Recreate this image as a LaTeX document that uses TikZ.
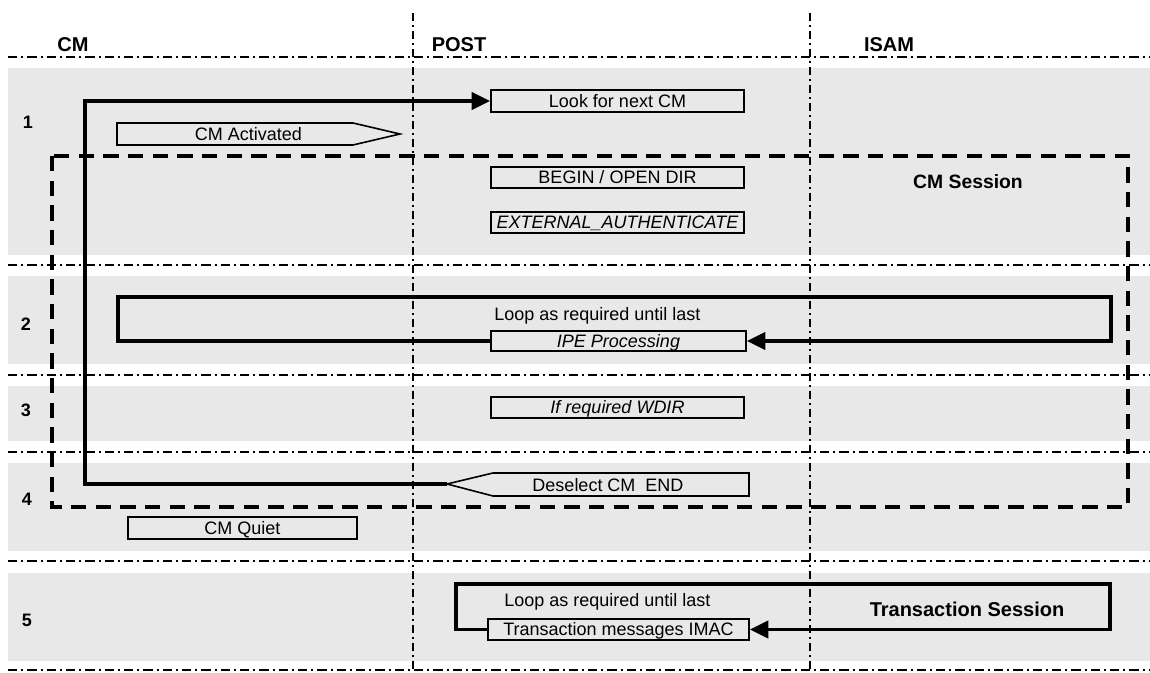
\documentclass[tikz,border=0pt]{standalone}
\usepackage{fontspec}
\setmainfont{Liberation Sans}
\usetikzlibrary{arrows.meta}
\definecolor{band}{RGB}{232,232,232}
\tikzset{
  bandfill/.style={fill=band, draw=none},
  hsep/.style={line width=1.6pt, dash pattern=on 7pt off 3pt on 1.5pt off 3pt},
  vsep/.style={line width=1.3pt, dash pattern=on 6pt off 3pt on 1.5pt off 3pt},
  msgbox/.style={draw, line width=1.2pt, inner sep=0pt, text height=9.7pt, text depth=0pt, font=\fontsize{13.5}{15}\selectfont},
  pent/.style={draw, line width=1.2pt},
  hdr/.style={font=\fontsize{15}{17}\selectfont\bfseries, inner sep=0pt},
  rownum/.style={font=\fontsize{13.5}{15}\selectfont\bfseries, inner sep=0pt},
  lbl/.style={font=\fontsize{13.5}{15}\selectfont, inner sep=0pt},
  sesslbl/.style={font=\fontsize{14.5}{16}\selectfont\bfseries, inner sep=0pt},
  conn/.style={line width=2.6pt},
  arr/.style={-{Triangle[length=14pt,width=13pt]}},
  session/.style={line width=3pt, dash pattern=on 11.5pt off 7pt},
}
\begin{document}
\begin{tikzpicture}[x=0.75pt,y=-0.75pt]
\useasboundingbox (0,0) rectangle (1150,673);
% bands
\fill[band] (8,68) rectangle (1150,255);
\fill[band] (8,276) rectangle (1150,364);
\fill[band] (8,386) rectangle (1150,441);
\fill[band] (8,463) rectangle (1150,551);
\fill[band] (8,573) rectangle (1150,661);
% horizontal separators
\foreach \y in {57,265,375,452,561,670} \draw[hsep] (8,\y) -- (1150,\y);
% vertical separators
\draw[vsep] (413,13) -- (413,673);
\draw[vsep] (810,13) -- (810,673);
% headers
\node[hdr] (hcm) at (73,44.5) {CM};
\node[hdr] (hpost) at (459,44.5) {POST};
\node[hdr] (hisam) at (889,44.5) {ISAM};
% row numbers
\node[rownum] (r1) at (28,122) {1};
\node[rownum] (r2) at (26,324) {2};
\node[rownum] (r3) at (26,410) {3};
\node[rownum] (r4) at (27,499) {4};
\node[rownum] (r5) at (27,620) {5};
% CM session frame
\draw[session] (52,156) rectangle (1128,507);
\node[sesslbl] (cms) at (968,181.5) {CM Session};
% message boxes
\node[msgbox, minimum width=189.75pt, minimum height=16.5pt] (look) at (617.5,101) {Look for next CM};
\node[msgbox, minimum width=189.75pt, minimum height=15.75pt] (begin) at (617.5,177.5) {BEGIN / OPEN DIR};
\node[msgbox, minimum width=189.75pt, minimum height=15.75pt, font=\fontsize{13.5}{15}\selectfont\itshape] (ext) at (617.5,222.5) {EXTERNAL\_AUTHENTICATE};
\node[msgbox, minimum width=191.25pt, minimum height=15pt, font=\fontsize{13.5}{15}\selectfont\itshape] (ipe) at (618.5,341) {IPE Processing};
\node[msgbox, minimum width=189.75pt, minimum height=15.75pt, font=\fontsize{13.5}{15}\selectfont\itshape] (wdir) at (617.5,407.5) {If required WDIR};
\node[msgbox, minimum width=171.75pt, minimum height=16.5pt] (quiet) at (242.5,528) {CM Quiet};
\node[msgbox, minimum width=195.75pt, minimum height=15.75pt] (imac) at (618.5,629.5) {Transaction messages IMAC};
% pentagons
\draw[pent] (117,123) -- (353,123) -- (400,134) -- (353,145) -- (117,145) -- cycle;
\node[lbl] (act) at (248.5,134.5) {CM Activated};
\draw[pent] (447,484) -- (493,473) -- (749,473) -- (749,496) -- (493,496) -- cycle;
\coordinate (dtip) at (447,484);
\node[lbl] (desel) at (608,485) {Deselect CM\ \ END};
% CM loop connector
\coordinate (c1) at (85,484);
\coordinate (c2) at (85,101);
\draw[conn, arr] (dtip) -- (c1) -- (c2) -- (look.west);
% IPE loop
\node[lbl, anchor=base west] (loop1) at (494,321) {Loop as required until last};
\coordinate (l1a) at (118,341);
\coordinate (l1b) at (118,297);
\coordinate (l1c) at (1111,297);
\coordinate (l1d) at (1111,341);
\draw[conn, arr] (ipe.west) -- (l1a) -- (l1b) -- (l1c) -- (l1d) -- (ipe.east);
% Transaction loop
\node[lbl, anchor=base west] (loop2) at (504,606) {Loop as required until last};
\node[sesslbl, font=\fontsize{15}{17}\selectfont\bfseries] (trs) at (967,609) {Transaction Session};
\coordinate (l2a) at (456,629.5);
\coordinate (l2b) at (456,584);
\coordinate (l2c) at (1110,584);
\coordinate (l2d) at (1110,629.5);
\draw[conn, arr] (imac.west) -- (l2a) -- (l2b) -- (l2c) -- (l2d) -- (imac.east);
\end{tikzpicture}
\end{document}
